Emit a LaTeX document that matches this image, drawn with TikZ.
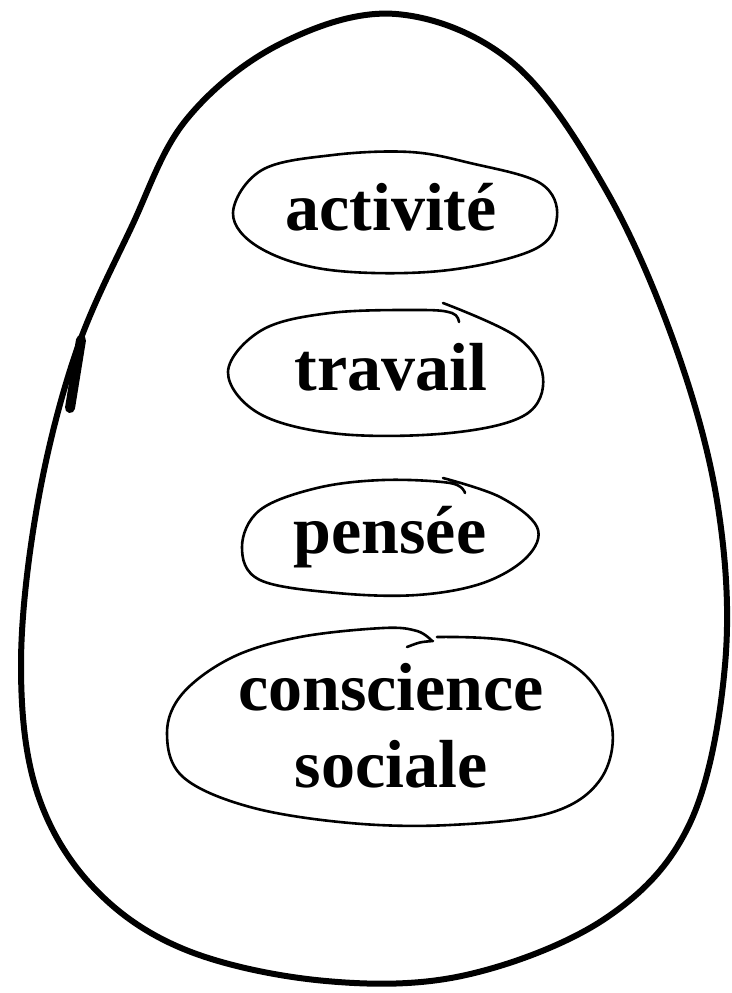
\documentclass[tikz,border=0pt]{standalone}
\usepackage{fontspec}
\setmainfont{Liberation Serif}
\begin{document}
\begin{tikzpicture}[x=1pt,y=-1pt,
  lbl/.style={font=\bfseries\fontsize{68}{77}\selectfont, inner sep=0pt, anchor=base},
  eggline/.style={line width=6pt, line join=round},
  ovalline/.style={line width=2.6pt, line cap=round, line join=round}]
\useasboundingbox (0,0) rectangle (731,993);
% egg outline
\draw[eggline] plot[smooth cycle, tension=0.6] coordinates {
  (396,14) (513,63) (606,190) (676,348) (718,507) (725,665) (690,823)
  (606,918) (466,975) (326,981) (186,950) (93,887) (37,792) (21,665)
  (37,507) (75,355) (131,228) (186,120) (280,44)};
\draw[line width=10pt, line cap=round] (81,340) -- (70,408);
% labels
\node[lbl] (act) at (391,230) {activité};
\node[lbl] (trav) at (391,390) {travail};
\node[lbl] (pens) at (390,553) {pensée};
\node[lbl] (cons) at (391,710) {conscience};
\node[lbl] (soc) at (391,787) {sociale};
% ovals
\draw[ovalline] plot[smooth cycle, tension=0.6] coordinates {
  (233,213) (262,170) (333,155) (410,152) (470,163) (540,183) (557,217)
  (533,250) (440,271) (330,270) (260,248)};
\draw[ovalline] plot[smooth, tension=0.6] coordinates {
  (443,303) (517,337) (543,377) (525,415) (450,433) (340,434) (260,414)
  (228,372) (262,330) (330,313) (420,310) (452,313) (459,322)};
\draw[ovalline] plot[smooth, tension=0.6] coordinates {
  (443,478) (500,497) (537,527) (527,557) (483,583) (417,595) (337,593)
  (260,580) (242,547) (260,510) (317,488) (383,480) (450,483) (465,493)};
\draw[ovalline] plot[smooth, tension=0.6] coordinates {
  (437,637) (517,642) (583,673) (612,727) (600,780) (550,813) (450,825)
  (350,823) (250,807) (183,777) (167,733) (183,693) (233,657) (300,637)
  (383,628) (417,631) (432,641)};
\draw[ovalline] (407,647) .. controls (420,642) .. (433,641);
\end{tikzpicture}
\end{document}
